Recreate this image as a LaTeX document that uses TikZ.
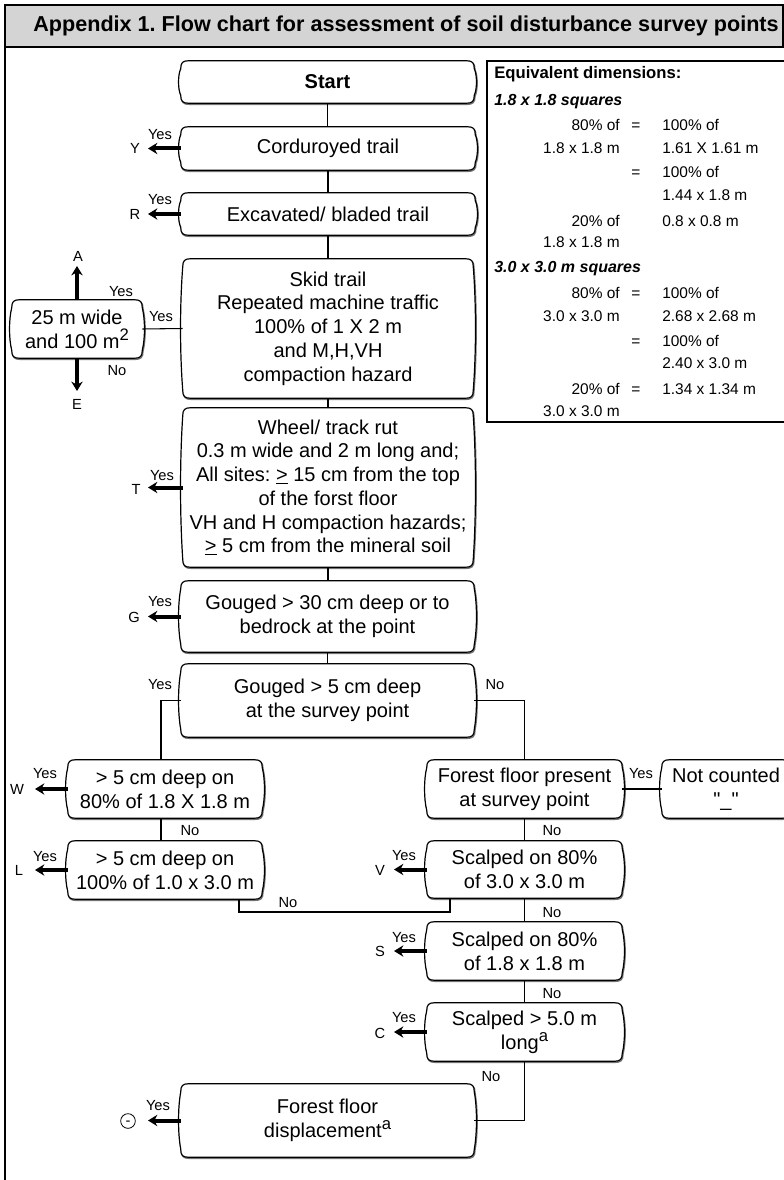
\documentclass[tikz,border=0pt]{standalone}
\usepackage{fontspec}
\setmainfont{Liberation Sans}
\newfontfamily\plainsans{Liberation Sans}
\frenchspacing
\usetikzlibrary{calc,arrows.meta}
\definecolor{hdr}{RGB}{212,212,212}
\newcommand\fcfont{\fontsize{15}{17.8}\selectfont}
\newcommand\lblfont{\fontsize{11}{13}\selectfont}
\newcommand\infofont{\fontsize{11.6}{14}\selectfont}
\newcommand\sq[1]{\raisebox{0.38em}{\fontsize{12.5}{12.5}\selectfont #1}}
\newcommand\fcoutline[1]{%
  \draw[fcline] ([xshift=6pt]#1.north west) -- ([xshift=-6pt]#1.north east)
    .. controls ([xshift=-1.5pt]#1.north east) and ([yshift=-1.5pt]#1.north east) .. ([yshift=-6pt]#1.north east)
    .. controls ($(#1.north east)!0.33!(#1.south east)+(2.2pt,0)$) and ($(#1.north east)!0.67!(#1.south east)+(2.2pt,0)$) .. ([yshift=6pt]#1.south east)
    .. controls ([yshift=1.5pt]#1.south east) and ([xshift=-1.5pt]#1.south east) .. ([xshift=-6pt]#1.south east)
    -- ([xshift=6pt]#1.south west)
    .. controls ([xshift=1.5pt]#1.south west) and ([yshift=1.5pt]#1.south west) .. ([yshift=6pt]#1.south west)
    .. controls ($(#1.south west)!0.33!(#1.north west)+(-2.2pt,0)$) and ($(#1.south west)!0.67!(#1.north west)+(-2.2pt,0)$) .. ([yshift=-6pt]#1.north west)
    .. controls ([yshift=-1.5pt]#1.north west) and ([xshift=1.5pt]#1.north west) .. ([xshift=6pt]#1.north west) -- cycle;}
\newcommand\fcb[6]{%
  \node[fcnode, minimum width={(#4-#2)*0.75pt}, minimum height={(#5-#3)*0.75pt}] (#1) at ({(#2+#4)/2},{(#3+#5)/2}) {};
  \fcoutline{#1}
  \node[fcnode] (#1-t) at (#1.center) {#6};}
\begin{document}
\begin{tikzpicture}[x=0.75pt,y=-0.75pt,
  fcnode/.style={rectangle, inner sep=0pt, align=center, font=\fcfont},
  fcline/.style={draw=black, line width=0.9pt, fill=white,
    preaction={draw=black!55, line width=1.1pt, transform canvas={shift={(0.5pt,-0.8pt)}}}},
  conn/.style={draw=black, line width=0.8pt},
  yarr/.style={draw=black, line width=3pt, -{Stealth[length=7pt,width=8.5pt]}},
  lbl/.style={font=\lblfont, inner sep=0pt, text height=8pt, text depth=0pt},
  info/.style={font=\infofont, inner sep=0pt, text height=8.5pt, text depth=2.5pt},
  infoh/.style={info, anchor=west, font=\fontsize{12.5}{14}\selectfont\bfseries},
]
\useasboundingbox (0,0) rectangle (784,1180);
\fill[white] (0,0) rectangle (784,1180);
\clip (0,0) rectangle (784,1180);
% frame and header
\draw[line width=1.5pt] (5,1190) -- (5,5);
\filldraw[fill=hdr, draw=black, line width=1.5pt] (5,5) rectangle (783,47);
\node[font=\fontsize{16.2}{18}\selectfont\bfseries, inner sep=0pt] (title) at (406,26) {Appendix 1. Flow chart for assessment of soil disturbance survey points};
% info box
\node[draw=black, line width=1pt, rectangle, inner sep=0pt, minimum width={303*0.75pt}, minimum height={361*0.75pt}] (infobox) at (638.5,241.5) {};
\node[infoh] (i1) at (494,75) {Equivalent dimensions:};
\node[infoh, font=\fontsize{12}{14}\selectfont\bfseries\itshape] (i2) at (494,102) {1.8 x 1.8 squares};
\node[info, anchor=east] (i3) at (620,127) {80\% of};
\node[info] (i4) at (636,127) {=};
\node[info, anchor=west] (i5) at (662,127) {100\% of};
\node[info, anchor=east] (i6) at (620,150) {1.8 x 1.8 m};
\node[info, anchor=west] (i7) at (662,150) {1.61 X 1.61 m};
\node[info] (i8) at (636,174) {=};
\node[info, anchor=west] (i9) at (662,174) {100\% of};
\node[info, anchor=west] (i10) at (662,197) {1.44 x 1.8 m};
\node[info, anchor=east] (i11) at (620,223) {20\% of};
\node[info, anchor=west] (i12) at (662,223) {0.8 x 0.8 m};
\node[info, anchor=east] (i13) at (620,244) {1.8 x 1.8 m};
\node[infoh, font=\fontsize{12}{14}\selectfont\bfseries\itshape] (i14) at (494,269) {3.0 x 3.0 m squares};
\node[info, anchor=east] (i15) at (620,295) {80\% of};
\node[info] (i16) at (636,295) {=};
\node[info, anchor=west] (i17) at (662,295) {100\% of};
\node[info, anchor=east] (i18) at (620,317) {3.0 x 3.0 m};
\node[info, anchor=west] (i19) at (662,317) {2.68 x 2.68 m};
\node[info] (i20) at (636,342) {=};
\node[info, anchor=west] (i21) at (662,342) {100\% of};
\node[info, anchor=west] (i22) at (662,364) {2.40 x 3.0 m};
\node[info, anchor=east] (i23) at (620,390) {20\% of};
\node[info] (i24) at (636,390) {=};
\node[info, anchor=west] (i25) at (662,390) {1.34 x 1.34 m};
\node[info, anchor=east] (i26) at (620,412) {3.0 x 3.0 m};
% boxes
\fcb{start}{181}{61}{474}{103}{\bfseries Start}
\fcb{cord}{181}{127}{475}{170}{Corduroyed trail}
\fcb{exc}{181}{193}{475}{235}{Excavated/ bladed trail}
\fcb{skid}{183}{259}{473}{398}{Skid trail\\Repeated machine traffic\\100\% of 1 X 2 m\\and M,H,VH\\compaction hazard}
\fcb{wide}{12}{300}{142}{358}{25 m wide\\and 100 m\sq{2}}
\fcb{wheel}{183}{408}{473}{567}{Wheel/ track rut\\0.3 m wide and 2 m long and;\\All sites: \underline{>} 15 cm from the top\\of the forst floor\\VH and H compaction hazards;\\\underline{>} 5 cm from the mineral soil}
\fcb{gA}{181}{581}{474}{652}{Gouged > 30 cm deep or to\\bedrock at the point}
\fcb{gB}{181}{664}{474}{737}{Gouged > 5 cm deep\\at the survey point}
\fcb{w80}{68}{760}{262}{818}{> 5 cm deep on\\80\% of 1.8 X 1.8 m}
\fcb{l100}{68}{841}{262}{899}{> 5 cm deep on\\100\% of 1.0 x 3.0 m}
\fcb{ffp}{427}{760}{622}{818}{Forest floor present\\at survey point}
\fcb{notc}{662}{760}{790}{818}{Not counted\\{\plainsans "\_"}}
\fcb{v}{427}{841}{622}{898}{Scalped on 80\%\\of 3.0 x 3.0 m}
\fcb{s}{427}{922}{622}{980}{Scalped on 80\%\\of 1.8 x 1.8 m}
\fcb{c}{427}{1003}{622}{1061}{Scalped > 5.0 m\\long\sq{a}}
\fcb{ffd}{181}{1084}{474}{1157}{Forest floor\\displacement\sq{a}}
% trunk connectors
\draw[conn] (start.south) -- (start.south |- cord.north);
\draw[conn] (cord.south) -- (cord.south |- exc.north);
\draw[conn] (exc.south) -- (exc.south |- skid.north);
\draw[conn] (skid.south) -- (skid.south |- wheel.north);
\draw[conn] (wheel.south) -- (wheel.south |- gA.north);
\draw[conn] (gA.south) -- (gA.south |- gB.north);
\draw[conn] (skid.west) -- (wide.east);
\coordinate (lcol) at (161,700);
\draw[conn] (gB.west) -| (lcol |- w80.north);
\draw[conn] (lcol |- w80.south) -- (lcol |- l100.north);
\draw[conn] (gB.east) -| (ffp.north);
\draw[conn] (ffp.east) -- (notc.west);
\draw[conn] (ffp.south) -- (v.north);
\draw[conn] (v.south) -- (s.north);
\draw[conn] (s.south) -- (c.north);
\draw[conn] (c.south) |- (ffd.east);
\coordinate (lnA) at (239,912);
\coordinate (lnB) at (450,912);
\draw[conn] (lnA |- l100.south) -- (lnA) -- (lnB) -- (lnB |- v.south);
% yes arrows
\coordinate (tA) at (77,266);
\coordinate (tE) at (77,391);
\draw[yarr] (wide.north) -- (tA);
\draw[yarr] (wide.south) -- (tE);
\coordinate (tY) at (148,148.5);
\coordinate (tR) at (148,214);
\coordinate (tT) at (148,487.5);
\coordinate (tG) at (148,616.5);
\coordinate (tW) at (35,789);
\coordinate (tL) at (35,870);
\coordinate (tV) at (394,869.5);
\coordinate (tS) at (394,951);
\coordinate (tC) at (394,1032);
\coordinate (tD) at (148,1120.5);
\draw[yarr] (cord.west) -- (tY);
\draw[yarr] (exc.west) -- (tR);
\draw[yarr] (wheel.west) -- (tT);
\draw[yarr] (gA.west) -- (tG);
\draw[yarr] (w80.west) -- (tW);
\draw[yarr] (l100.west) -- (tL);
\draw[yarr] (v.west) -- (tV);
\draw[yarr] (s.west) -- (tS);
\draw[yarr] (c.west) -- (tC);
\draw[yarr] (ffd.west) -- (tD);
% outcome letters
\node[lbl] (oA) at (78,256) {A};
\node[lbl] (oE) at (77,404) {E};
\node[lbl] (oY) at (135,148) {Y};
\node[lbl] (oR) at (135,214) {R};
\node[lbl] (oT) at (136,489) {T};
\node[lbl] (oG) at (134,617) {G};
\node[lbl] (oW) at (17,789) {W};
\node[lbl] (oL) at (19,870) {L};
\node[lbl] (oV) at (380,870) {V};
\node[lbl] (oS) at (380,951) {S};
\node[lbl] (oC) at (380,1033) {C};
\node[circle, draw=black, line width=0.6pt, inner sep=0pt, minimum size=11pt, font=\lblfont, text height=6pt, text depth=0pt] (oD) at (128,1121) {-};
% yes / no labels
\node[lbl] (y1) at (160,134) {Yes};
\node[lbl] (y2) at (160,199) {Yes};
\node[lbl] (y3) at (121,291) {Yes};
\node[lbl] (y4) at (161,316) {Yes};
\node[lbl] (n1) at (117,370) {No};
\node[lbl] (y5) at (162,475) {Yes};
\node[lbl] (y6) at (160,601) {Yes};
\node[lbl] (y7) at (160,684) {Yes};
\node[lbl] (n2) at (495,684) {No};
\node[lbl] (y8) at (45,773) {Yes};
\node[lbl] (n3) at (190,830) {No};
\node[lbl] (y9) at (45,856) {Yes};
\node[lbl] (n4) at (288,902) {No};
\node[lbl] (y10) at (641,773) {Yes};
\node[lbl] (n5) at (552,830) {No};
\node[lbl] (y11) at (404,855) {Yes};
\node[lbl] (n6) at (552,912) {No};
\node[lbl] (y12) at (404,937) {Yes};
\node[lbl] (n7) at (552,993) {No};
\node[lbl] (y13) at (404,1017) {Yes};
\node[lbl] (n8) at (491,1076) {No};
\node[lbl] (y14) at (158,1105) {Yes};
\end{tikzpicture}
\end{document}
